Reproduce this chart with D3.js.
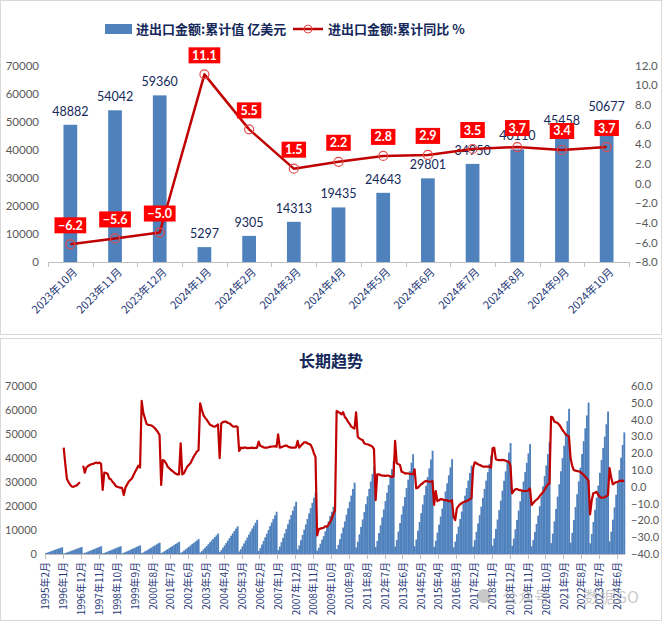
<!DOCTYPE html>
<html><head><meta charset="utf-8">
<script src="https://cdn.jsdelivr.net/npm/d3@7/dist/d3.min.js"></script>
<style>body{margin:0;background:#fff;} svg{display:block;}</style>
</head><body><svg id="c" width="663" height="624"></svg>
<script>
// ---------- top chart data ----------
const topCategories = ["2023年10月","2023年11月","2023年12月","2024年1月","2024年2月","2024年3月","2024年4月","2024年5月","2024年6月","2024年7月","2024年8月","2024年9月","2024年10月"];
const topValues = [48882, 54042, 59360, 5297, 9305, 14313, 19435, 24643, 29801, 34950, 40110, 45458, 50677];
const topYoY = [-6.2, -5.6, -5.0, 11.1, 5.5, 1.5, 2.2, 2.8, 2.9, 3.5, 3.7, 3.4, 3.7];
const topLeftTicks = [0, 10000, 20000, 30000, 40000, 50000, 60000, 70000];
const topRightTicks = [-8, -6, -4, -2, 0, 2, 4, 6, 8, 10, 12];
const legendLabels = ["进出口金额:累计值 亿美元", "进出口金额:累计同比 %"];

// ---------- long-term chart data (monthly, 1995-02 .. 2024-10) ----------
const longStart = [1995, 2];
const longValues = [
  /*1995*/ 390, 630, 870, 1110, 1350, 1600, 1850, 2090, 2330, 2570, 2809,
  /*1996*/ 220, 410, 650, 900, 1150, 1390, 1650, 1910, 2160, 2410, 2650, 2899,
  /*1997*/ 240, 460, 730, 1010, 1280, 1560, 1850, 2150, 2420, 2700, 2980, 3252,
  /*1998*/ 240, 450, 730, 1000, 1280, 1560, 1850, 2140, 2410, 2690, 2960, 3240,
  /*1999*/ 260, 500, 810, 1120, 1420, 1730, 2060, 2380, 2690, 2990, 3300, 3606,
  /*2000*/ 360, 660, 1070, 1470, 1870, 2280, 2700, 3130, 3530, 3940, 4340, 4743,
  /*2001*/ 380, 710, 1150, 1580, 2010, 2450, 2910, 3360, 3800, 4230, 4660, 5097,
  /*2002*/ 470, 870, 1400, 1920, 2450, 2980, 3540, 4100, 4630, 5150, 5680, 6208,
  /*2003*/ 640, 1190, 1910, 2640, 3360, 4080, 4850, 5620, 6340, 7060, 7790, 8510,
  /*2004*/ 870, 1620, 2600, 3580, 4560, 5540, 6580, 7620, 8600, 9580, 10560, 11546,
  /*2005*/ 1070, 1990, 3200, 4410, 5620, 6830, 8100, 9380, 10590, 11800, 13010, 14219,
  /*2006*/ 1320, 2460, 3960, 5460, 6950, 8450, 10030, 11620, 13110, 14610, 16110, 17604,
  /*2007*/ 1630, 3050, 4900, 6750, 8600, 10450, 12400, 14360, 16210, 18060, 19910, 21761,
  /*2008*/ 1920, 3590, 5770, 7950, 10120, 12300, 14610, 16920, 19100, 21270, 23450, 25632,
  /*2009*/ 1410, 2620, 4290, 5960, 7460, 9460, 11530, 13640, 15900, 17590, 19690, 22075,
  /*2010*/ 2050, 3820, 6180, 8540, 11020, 13550, 16340, 19040, 21780, 24330, 27120, 29740,
  /*2011*/ 2730, 5100, 8190, 11290, 14390, 17480, 20760, 24040, 27130, 30230, 33320, 36418,
  /*2012*/ 2900, 5410, 8700, 11990, 15280, 18560, 22040, 25520, 28810, 32100, 35380, 38671,
  /*2013*/ 3120, 5820, 9360, 12890, 16430, 19960, 23710, 27450, 30980, 34520, 38050, 41590,
  /*2014*/ 3230, 6020, 9680, 13330, 16990, 20650, 24520, 28390, 32050, 35700, 39360, 43015,
  /*2015*/ 2960, 5530, 8890, 12250, 15610, 18970, 22530, 26090, 29450, 32810, 36170, 39530,
  /*2016*/ 2760, 5160, 8290, 11430, 14560, 17690, 21010, 24320, 27460, 30590, 33720, 36856,
  /*2017*/ 3080, 5750, 9240, 12720, 16210, 19700, 23400, 27090, 30580, 34070, 37560, 41045,
  /*2018*/ 3470, 6470, 10400, 14330, 18260, 22190, 26350, 30510, 34440, 38370, 42300, 46224,
  /*2019*/ 3430, 6410, 10300, 14190, 18080, 21970, 26090, 30210, 34110, 38000, 41890, 45779,
  /*2020*/ 3200, 5800, 9200, 12500, 16000, 19900, 24000, 28200, 32500, 36900, 41600, 46559,
  /*2021*/ 4540, 8470, 13620, 18760, 23900, 29050, 34490, 39940, 45080, 50230, 55370, 60515,
  /*2022*/ 4730, 8830, 14200, 19560, 24920, 30290, 35960, 41640, 47010, 52370, 57730, 63096,
  /*2023*/ 4450, 8310, 13360, 18400, 23450, 28490, 33840, 39180, 44220, 48882, 54042, 59360,
  /*2024*/ 5297, 9305, 14313, 19435, 24643, 29801, 34950, 40110, 45458, 50677
];
const longYoY = [
  /*1995*/ null, null, null, null, null, null, null, null, null, null, null,
  /*1996*/ 23.3, 13.5, 4.6, 2.8, 1.2, 0.2, 0.0, 0.5, 0.8, 1.8, 2.7, null,
  /*1997*/ 12.6, 8.4, 11.5, 12.4, 13.0, 13.4, 13.6, 14.0, 14.4, 14.0, 14.4, 13.8,
  /*1998*/ -1.9, 8.4, 8.2, 7.8, 5.0, 4.5, 3.0, 2.0, 0.5, 0.0, -0.3, -0.5,
  /*1999*/ -0.8, -4.9, -0.5, 1.3, 3.0, 4.0, 5.0, 7.0, 9.0, 10.8, 12.6, 11.5,
  /*2000*/ 51.1, 44.0, 40.8, 37.5, 36.8, 36.8, 36.5, 35.8, 35.0, 33.8, 32.5, 30.8,
  /*2001*/ 1.1, 15.9, 15.5, 14.0, 12.0, 11.0, 10.0, 9.4, 8.5, 7.8, 7.4, 7.4,
  /*2002*/ 25.9, 7.4, 8.0, 10.0, 12.0, 13.0, 14.0, 16.0, 17.9, 19.5, 21.0, 21.8,
  /*2003*/ 49.7, 46.0, 42.7, 41.2, 40.0, 38.5, 37.0, 36.5, 36.0, 35.8, 36.3, 37.1,
  /*2004*/ 17.0, 37.8, 38.5, 38.8, 38.8, 38.0, 37.8, 37.0, 36.0, 35.8, 36.0, 35.7,
  /*2005*/ 21.3, 23.3, 23.0, 23.3, 23.3, 23.0, 23.0, 23.2, 23.3, 23.0, 23.2, 23.2,
  /*2006*/ 26.9, 24.4, 24.0, 23.5, 23.3, 23.3, 23.5, 23.8, 24.0, 24.0, 24.2, 23.8,
  /*2007*/ 31.2, 23.3, 23.6, 24.0, 24.4, 24.6, 24.0, 23.6, 23.3, 23.3, 23.3, 23.5,
  /*2008*/ 27.3, 23.3, 24.5, 25.5, 26.5, 26.5, 25.9, 25.5, 25.0, 23.0, 20.0, 17.8,
  /*2009*/ -29.0, -25.1, -24.9, -24.6, -24.4, -23.5, -23.8, -22.5, -21.0, -19.0, -16.2, -13.9,
  /*2010*/ 45.1, 44.5, 44.0, 43.1, 44.5, 41.7, 40.5, 38.8, 37.5, 35.8, 35.2, 34.7,
  /*2011*/ 44.3, 29.8, 28.8, 28.2, 27.8, 25.9, 25.5, 25.3, 24.9, 24.5, 23.9, 22.5,
  /*2012*/ -7.9, 7.4, 7.4, 7.0, 6.6, 6.6, 6.5, 6.6, 6.6, 6.3, 5.8, 6.2,
  /*2013*/ 27.3, 14.0, 13.5, 13.0, 9.0, 8.6, 8.0, 8.0, 7.9, 7.8, 7.5, 7.6,
  /*2014*/ 10.4, -0.9, -0.5, 0.5, 1.5, 2.1, 3.0, 3.5, 3.3, 3.0, 3.0, 3.4,
  /*2015*/ -10.8, -2.5, -8.5, -8.0, -7.3, -7.5, -7.8, -7.9, -8.1, -8.5, -8.6, -8.0,
  /*2016*/ -17.8, -19.8, -12.8, -11.5, -10.4, -9.8, -9.2, -8.8, -8.5, -8.0, -7.3, -6.8,
  /*2017*/ 11.0, 14.6, 14.0, 13.4, 13.0, 12.6, 12.0, 12.0, 12.0, 12.0, 12.0, 11.4,
  /*2018*/ 22.9, 23.3, 16.5, 16.0, 15.9, 15.9, 16.0, 15.9, 15.5, 15.2, 14.9, 12.6,
  /*2019*/ -3.9, -2.5, -1.5, -1.3, -1.8, -2.0, -2.3, -2.5, -2.5, -2.5, -2.0, -1.0,
  /*2020*/ -10.8, -9.7, -8.5, -7.7, -6.9, -5.5, -4.4, -3.3, -1.8, 0.0, 1.5, 1.9,
  /*2021*/ 41.7, 41.2, 38.8, 38.4, 38.0, 37.0, 35.5, 33.8, 32.5, 31.2, 30.5, 30.0,
  /*2022*/ 17.0, 12.5, 10.0, 9.6, 9.4, 9.2, 8.8, 8.0, 7.2, 6.0, 5.0, 3.5,
  /*2023*/ -16.4, -8.2, -3.9, -3.5, -3.0, -4.7, -5.9, -6.5, -6.4, -6.2, -5.6, -5.0,
  /*2024*/ 11.1, 5.5, 1.5, 2.2, 2.8, 2.9, 3.5, 3.7, 3.4, 3.7
];
const longLeftTicks = [0, 10000, 20000, 30000, 40000, 50000, 60000, 70000];
const longRightTicks = [-40, -30, -20, -10, 0, 10, 20, 30, 40, 50, 60];
const longTitle = "长期趋势";
const labelEvery = 11;
const watermark = ["公众号", "·", "数据GO"];

// ---------- styles ----------
const BAR = "#4f81bd", LINE = "#c00000", NAVY = "#14285a", AXT = "#595959", GRID = "#d9d9d9";
const numFont = "Lato, 'Liberation Sans', sans-serif";
const cjkFont = "'Noto Sans CJK SC', 'Noto Sans', sans-serif";

const svg = d3.select("#c");
svg.append("rect").attr("x",0.5).attr("y",0.5).attr("width",661).attr("height",334)
  .attr("fill","#fff").attr("stroke",GRID);
svg.append("rect").attr("x",0.5).attr("y",338.5).attr("width",661).attr("height",282)
  .attr("fill","#fff").attr("stroke",GRID);

// ================= TOP CHART =================
const x1 = d3.scaleBand().domain(topCategories).range([48, 629]);
const yL1 = d3.scaleLinear().domain([0, 70000]).range([262, 65.5]);
const yR1 = d3.scaleLinear().domain([-8, 12]).range([262, 65.5]);
const bw1 = x1.bandwidth();
const cx1 = c => x1(c) + bw1 / 2;

// left axis
const gL1 = svg.append("g").attr("transform","translate(41,0)")
  .call(d3.axisLeft(yL1).tickValues(topLeftTicks).tickSize(0).tickFormat(d3.format("d")));
gL1.select(".domain").remove();
gL1.selectAll("text").attr("font-family",numFont).attr("font-size",11.5).attr("fill",AXT).attr("x",-2);
// right axis
const gR1 = svg.append("g").attr("transform","translate(633,0)")
  .call(d3.axisRight(yR1).tickValues(topRightTicks).tickSize(0).tickFormat(d3.format(".1f")));
gR1.select(".domain").remove();
gR1.selectAll("text").attr("font-family",numFont).attr("font-size",11.5).attr("fill",AXT).attr("x",2);

// x axis line + ticks
svg.append("line").attr("x1",48).attr("x2",629).attr("y1",262.5).attr("y2",262.5).attr("stroke","#bfbfbf");
svg.append("g").selectAll("line").data(d3.range(topCategories.length + 1)).join("line")
  .attr("x1", i => Math.round(48 + i * bw1) + 0.5).attr("x2", i => Math.round(48 + i * bw1) + 0.5)
  .attr("y1",262).attr("y2",267).attr("stroke","#bfbfbf");

// bars
const barW1 = bw1 * 0.307;
svg.append("g").selectAll("rect").data(topCategories).join("rect")
  .attr("x", c => cx1(c) - barW1 / 2).attr("width", barW1)
  .attr("y", (c, i) => yL1(topValues[i])).attr("height", (c, i) => yL1(0) - yL1(topValues[i]))
  .attr("fill", BAR);

// bar labels
svg.append("g").selectAll("text").data(topCategories).join("text")
  .attr("x", c => cx1(c)).attr("y", (c, i) => yL1(topValues[i]) - 9)
  .attr("text-anchor","middle").attr("font-family",numFont).attr("font-size",12.5)
  .attr("fill",NAVY).text((c, i) => topValues[i]);

// x labels
svg.append("g").selectAll("text").data(topCategories).join("text")
  .attr("transform", c => `translate(${cx1(c) + 5},${270}) rotate(-45)`)
  .attr("text-anchor","end").attr("dy","0.35em")
  .attr("font-family",cjkFont).attr("font-size",11).attr("fill","#1f3a78").text(c => c);

// line
const line1 = d3.line().x((v, i) => cx1(topCategories[i])).y(v => yR1(v));
svg.append("path").datum(topYoY).attr("d", line1).attr("fill","none")
  .attr("stroke",LINE).attr("stroke-width",2.5).attr("stroke-linejoin","round");
svg.append("g").selectAll("circle").data(topYoY).join("circle")
  .attr("cx", (v, i) => cx1(topCategories[i])).attr("cy", v => yR1(v)).attr("r",4.5)
  .attr("fill","none").attr("stroke","#e34a4a").attr("stroke-width",1.2);

// red labels
const lab = svg.append("g").selectAll("g").data(topYoY).join("g")
  .attr("transform", (v, i) => `translate(${cx1(topCategories[i])},${yR1(v) - 19})`);
const labT = lab.append("text").attr("text-anchor","middle").attr("dy","0.36em")
  .attr("font-family",numFont).attr("font-weight","bold").attr("font-size",12.5)
  .attr("fill","#fff").text(v => d3.format(".1f")(v));
lab.each(function() {
  const g = d3.select(this);
  const w = g.select("text").node().getComputedTextLength() + 7;
  g.insert("rect","text").attr("x",-w/2).attr("y",-8).attr("width",w).attr("height",16).attr("fill","#ff0000");
});

// legend
const lg = svg.append("g");
lg.append("rect").attr("x",105).attr("y",24).attr("width",27).attr("height",10).attr("fill",BAR);
lg.append("text").attr("x",136).attr("y",29).attr("dy","0.36em").attr("font-family",cjkFont)
  .attr("font-weight","bold").attr("font-size",13).attr("fill",NAVY).text(legendLabels[0]);
lg.append("line").attr("x1",293).attr("x2",323).attr("y1",29).attr("y2",29).attr("stroke",LINE).attr("stroke-width",2.5);
lg.append("circle").attr("cx",308).attr("cy",29).attr("r",4).attr("fill","none").attr("stroke","#e34a4a");
lg.append("text").attr("x",328).attr("y",29).attr("dy","0.36em").attr("font-family",cjkFont)
  .attr("font-weight","bold").attr("font-size",13).attr("fill",NAVY).text(legendLabels[1]);

// ================= BOTTOM CHART =================
const nLong = longValues.length;
const longLabels = d3.range(nLong).map(i => {
  const m = longStart[1] - 1 + i;
  return `${longStart[0] + Math.floor(m / 12)}年${(m % 12) + 1}月`;
});
const x2 = d3.scaleBand().domain(d3.range(nLong)).range([45, 625]);
const yL2 = d3.scaleLinear().domain([0, 70000]).range([554, 386]);
const yR2 = d3.scaleLinear().domain([-40, 60]).range([554, 386]);
const bw2 = x2.bandwidth();

svg.append("text").attr("x",331).attr("y",361).attr("dy","0.36em").attr("text-anchor","middle")
  .attr("font-family",cjkFont).attr("font-weight","bold").attr("font-size",16).attr("fill",NAVY).text(longTitle);

const gL2 = svg.append("g").attr("transform","translate(39,0)")
  .call(d3.axisLeft(yL2).tickValues(longLeftTicks).tickSize(0).tickFormat(d3.format("d")));
gL2.select(".domain").remove();
gL2.selectAll("text").attr("font-family",numFont).attr("font-size",11).attr("fill",AXT).attr("x",-2);
const gR2 = svg.append("g").attr("transform","translate(629,0)")
  .call(d3.axisRight(yR2).tickValues(longRightTicks).tickSize(0).tickFormat(d3.format(".1f")));
gR2.select(".domain").remove();
gR2.selectAll("text").attr("font-family",numFont).attr("font-size",11).attr("fill",AXT).attr("x",2);

svg.append("g").selectAll("rect").data(longValues).join("rect")
  .attr("x", (v, i) => x2(i)).attr("width", bw2 + 0.25)
  .attr("y", v => yL2(v)).attr("height", v => yL2(0) - yL2(v)).attr("fill", BAR);

svg.append("line").attr("x1",45).attr("x2",625).attr("y1",554.5).attr("y2",554.5).attr("stroke","#bfbfbf");
const tickIdx = d3.range(0, nLong + 1, labelEvery);
svg.append("g").selectAll("line").data(tickIdx).join("line")
  .attr("x1", i => Math.round(45 + i * bw2) + 0.5).attr("x2", i => Math.round(45 + i * bw2) + 0.5)
  .attr("y1",554).attr("y2",559).attr("stroke","#bfbfbf");

svg.append("g").selectAll("text").data(d3.range(0, nLong, labelEvery)).join("text")
  .attr("transform", i => `translate(${x2(i) + bw2 / 2},562) rotate(-90)`)
  .attr("text-anchor","end").attr("dy","0.35em")
  .attr("font-family",cjkFont).attr("font-size",10).attr("fill","#1f3a78").text(i => longLabels[i]);

const line2 = d3.line().defined(v => v != null).x((v, i) => x2(i) + bw2 / 2).y(v => yR2(v));
svg.append("path").datum(longYoY).attr("d", line2).attr("fill","none")
  .attr("stroke",LINE).attr("stroke-width",2.2).attr("stroke-linejoin","round");

// watermark
const wm = svg.append("g").attr("opacity",0.45);
wm.append("circle").attr("cx",484).attr("cy",596).attr("r",7).attr("fill","#8a8a8a");
wm.append("text").attr("x",502).attr("y",597).attr("dy","0.36em").attr("font-family",cjkFont)
  .attr("font-size",16).attr("fill","#8a8a8a").text(watermark[0]);
wm.append("text").attr("x",560).attr("y",597).attr("dy","0.36em").attr("font-family",cjkFont)
  .attr("font-size",16).attr("fill","#8a8a8a").text(watermark[1]);
wm.append("text").attr("x",584).attr("y",597).attr("dy","0.36em").attr("font-family",cjkFont)
  .attr("font-size",16).attr("fill","#8a8a8a").text(watermark[2]);
</script></body></html>
